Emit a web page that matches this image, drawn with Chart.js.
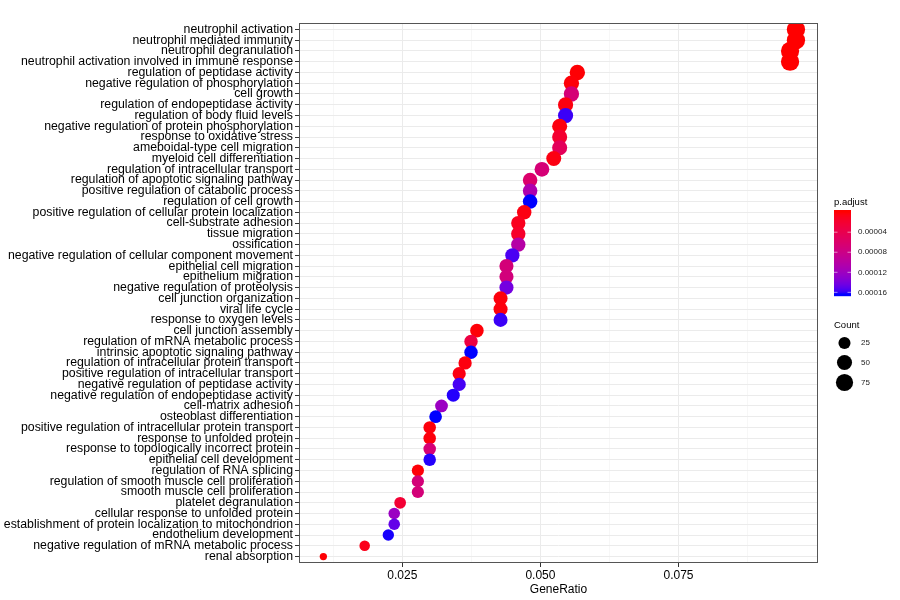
<!DOCTYPE html>
<html>
<head>
<meta charset="utf-8">
<script src="https://cdn.jsdelivr.net/npm/chart.js@4.4.1/dist/chart.umd.min.js"></script>
<style>
  html, body { margin: 0; padding: 0; background: #fff; }
  #wrap { width: 900px; height: 600px; }
</style>
</head>
<body>
<div id="wrap"><canvas id="dotChart" width="900" height="600"></canvas></div>
<script>
// GO terms, top to bottom
const terms = [
    'neutrophil activation',
    'neutrophil mediated immunity',
    'neutrophil degranulation',
    'neutrophil activation involved in immune response',
    'regulation of peptidase activity',
    'negative regulation of phosphorylation',
    'cell growth',
    'regulation of endopeptidase activity',
    'regulation of body fluid levels',
    'negative regulation of protein phosphorylation',
    'response to oxidative stress',
    'ameboidal-type cell migration',
    'myeloid cell differentiation',
    'regulation of intracellular transport',
    'regulation of apoptotic signaling pathway',
    'positive regulation of catabolic process',
    'regulation of cell growth',
    'positive regulation of cellular protein localization',
    'cell-substrate adhesion',
    'tissue migration',
    'ossification',
    'negative regulation of cellular component movement',
    'epithelial cell migration',
    'epithelium migration',
    'negative regulation of proteolysis',
    'cell junction organization',
    'viral life cycle',
    'response to oxygen levels',
    'cell junction assembly',
    'regulation of mRNA metabolic process',
    'intrinsic apoptotic signaling pathway',
    'regulation of intracellular protein transport',
    'positive regulation of intracellular transport',
    'negative regulation of peptidase activity',
    'negative regulation of endopeptidase activity',
    'cell-matrix adhesion',
    'osteoblast differentiation',
    'positive regulation of intracellular protein transport',
    'response to unfolded protein',
    'response to topologically incorrect protein',
    'epithelial cell development',
    'regulation of RNA splicing',
    'regulation of smooth muscle cell proliferation',
    'smooth muscle cell proliferation',
    'platelet degranulation',
    'cellular response to unfolded protein',
    'establishment of protein localization to mitochondrion',
    'endothelium development',
    'negative regulation of mRNA metabolic process',
    'renal absorption'
];

const geneRatio = [
    0.09626, 0.09626, 0.09519, 0.09519, 0.05668, 0.05561, 0.05561, 0.05455, 0.05455, 0.05348,
    0.05348, 0.05348, 0.05241, 0.05027, 0.04813, 0.04813, 0.04813, 0.04706, 0.04599, 0.04599,
    0.04599, 0.04492, 0.04385, 0.04385, 0.04385, 0.04278, 0.04278, 0.04278, 0.03850, 0.03743,
    0.03743, 0.03636, 0.03529, 0.03529, 0.03422, 0.03209, 0.03102, 0.02995, 0.02995, 0.02995,
    0.02995, 0.02781, 0.02781, 0.02781, 0.02460, 0.02353, 0.02353, 0.02246, 0.01818, 0.01070
];

const counts = [
    90, 90, 89, 89, 53, 52, 52, 51, 51, 50,
    50, 50, 49, 47, 45, 45, 45, 44, 43, 43,
    43, 42, 41, 41, 41, 40, 40, 40, 36, 35,
    35, 34, 33, 33, 32, 30, 29, 28, 28, 28,
    28, 26, 26, 26, 23, 22, 22, 21, 17, 10
];

const pAdjust = [
    1e-12, 1e-11, 1e-11, 1e-11, 1.0e-6, 2.0e-6, 6.8e-5, 4.0e-6, 0.000158, 4.0e-6,
    2.0e-5, 4.8e-5, 5.0e-6, 6.8e-5, 6.0e-5, 0.000108, 0.000163, 5.0e-6, 1.0e-5, 1.6e-5,
    0.000102, 0.000155, 7.0e-5, 7.2e-5, 0.000142, 3.0e-6, 3.0e-6, 0.000158, 2.0e-6, 3.2e-5,
    0.000163, 4.0e-6, 5.0e-6, 0.000156, 0.000161, 0.000122, 0.000163, 3.0e-6, 3.0e-6, 6.8e-5,
    0.000161, 2.0e-6, 7.0e-5, 7.0e-5, 2.2e-5, 0.000122, 0.000148, 0.000162, 8.0e-6, 1.0e-6
];

const xMajorTicks = [0.025, 0.05, 0.075];
const xMinorTicks = [0.0125, 0.0375, 0.0625, 0.0875];
const colorTicks = [0.00004, 0.00008, 0.00012, 0.00016];
const colorTickLabels = ['0.00004', '0.00008', '0.00012', '0.00016'];
const sizeTicks = [25, 50, 75];

// colour scale: red (low) -> blue (high), interpolated in Lab like ggplot
function toLin(c) { c /= 255; return c <= 0.04045 ? c / 12.92 : Math.pow((c + 0.055) / 1.055, 2.4); }
function fromLin(c) {
    c = c <= 0.0031308 ? 12.92 * c : 1.055 * Math.pow(c, 1 / 2.4) - 0.055;
    return Math.round(Math.max(0, Math.min(1, c)) * 255);
}
function rgbToLab(rgb) {
    const r = toLin(rgb[0]), g = toLin(rgb[1]), b = toLin(rgb[2]);
    let x = (r * 0.4124 + g * 0.3576 + b * 0.1805) / 0.95047;
    let y = (r * 0.2126 + g * 0.7152 + b * 0.0722);
    let z = (r * 0.0193 + g * 0.1192 + b * 0.9505) / 1.08883;
    const f = t => t > 0.008856 ? Math.cbrt(t) : 7.787 * t + 16 / 116;
    x = f(x); y = f(y); z = f(z);
    return [116 * y - 16, 500 * (x - y), 200 * (y - z)];
}
function labToRgb(lab) {
    let y = (lab[0] + 16) / 116, x = lab[1] / 500 + y, z = y - lab[2] / 200;
    const fi = t => t * t * t > 0.008856 ? t * t * t : (t - 16 / 116) / 7.787;
    x = fi(x) * 0.95047; y = fi(y); z = fi(z) * 1.08883;
    const r = x * 3.2406 + y * -1.5372 + z * -0.4986;
    const g = x * -0.9689 + y * 1.8758 + z * 0.0415;
    const b = x * 0.0557 + y * -0.2040 + z * 1.0570;
    return [fromLin(r), fromLin(g), fromLin(b)];
}
const labLow = rgbToLab([255, 0, 0]);
const labHigh = rgbToLab([0, 0, 255]);
const pMin = Math.min(...pAdjust);
const pMax = Math.max(...pAdjust);
function rampColor(t) {
    t = Math.max(0, Math.min(1, t));
    const c = labToRgb([0, 1, 2].map(i => labLow[i] + (labHigh[i] - labLow[i]) * t));
    return `rgb(${c[0]},${c[1]},${c[2]})`;
}
function pColor(p) { return rampColor((p - pMin) / (pMax - pMin)); }

// point diameter grows with sqrt of scaled count
const cMin = Math.min(...counts), cMax = Math.max(...counts);
function pointDiameter(c) {
    const t = Math.max(0, (c - cMin) / (cMax - cMin));
    return 7.3 + 11 * Math.sqrt(t);
}

const FONT = '"Liberation Sans", Arial, Helvetica, sans-serif';

const legendPlugin = {
    id: 'ggLegend',
    afterDraw(chart) {
        const ctx = chart.ctx;
        const area = chart.chartArea;
        ctx.save();

        // panel border
        ctx.strokeStyle = '#555555';
        ctx.lineWidth = 1;
        ctx.strokeRect(area.left + 0.5, area.top + 0.5, area.right - area.left - 1, area.bottom - area.top - 1);

        // p.adjust colour bar
        const barX = 834, barY = 210, barW = 17, barH = 86;
        const inset = barH * 0.025, span = barH * 0.95;
        ctx.fillStyle = '#000';
        ctx.font = '9.5px ' + FONT;
        ctx.textBaseline = 'middle';
        ctx.textAlign = 'left';
        ctx.fillText('p.adjust', barX, 202);
        for (let i = 0; i < barH; i++) {
            ctx.fillStyle = rampColor((i + 0.5 - inset) / span);
            ctx.fillRect(barX, barY + i, barW, 1.2);
        }
        ctx.strokeStyle = 'rgba(255,255,255,0.9)';
        ctx.lineWidth = 0.6;
        ctx.font = '8px ' + FONT;
        colorTicks.forEach((v, i) => {
            const y = barY + inset + span * (v - pMin) / (pMax - pMin);
            ctx.beginPath();
            ctx.moveTo(barX, y); ctx.lineTo(barX + 3.5, y);
            ctx.moveTo(barX + barW - 3.5, y); ctx.lineTo(barX + barW, y);
            ctx.stroke();
            ctx.fillStyle = '#222';
            ctx.fillText(colorTickLabels[i], 858, y);
        });

        // Count size legend
        ctx.fillStyle = '#000';
        ctx.font = '9.5px ' + FONT;
        ctx.fillText('Count', barX, 325);
        const keyY = [343, 362.5, 382.5];
        ctx.font = '8px ' + FONT;
        sizeTicks.forEach((c, i) => {
            ctx.fillStyle = '#000';
            ctx.beginPath();
            ctx.arc(844.5, keyY[i], pointDiameter(c) / 2, 0, Math.PI * 2);
            ctx.fill();
            ctx.fillStyle = '#222';
            ctx.fillText(String(c), 861, keyY[i]);
        });
        ctx.restore();
    }
};

const points = terms.map((t, i) => ({ x: geneRatio[i], y: i }));

new Chart(document.getElementById('dotChart'), {
    type: 'scatter',
    data: {
        datasets: [{
            data: points,
            pointRadius: c => pointDiameter(counts[c.dataIndex]) / 2,
            pointHoverRadius: c => pointDiameter(counts[c.dataIndex]) / 2,
            backgroundColor: c => pColor(pAdjust[c.dataIndex]),
            borderWidth: 0,
            clip: 0
        }]
    },
    options: {
        responsive: false,
        animation: false,
        layout: { padding: { left: 0, right: 82, top: 23, bottom: 0 } },
        plugins: {
            legend: { display: false },
            tooltip: { enabled: false }
        },
        scales: {
            x: {
                type: 'linear',
                min: 0.00629,
                max: 0.10025,
                afterBuildTicks: scale => {
                    scale.ticks = xMinorTicks.concat(xMajorTicks).sort((a, b) => a - b).map(v => ({ value: v }));
                },
                afterFit: scale => { scale.height = 37; },
                ticks: {
                    autoSkip: false,
                    maxRotation: 0,
                    padding: 1,
                    color: '#000',
                    font: { family: FONT, size: 12 },
                    callback: v => xMajorTicks.includes(v) ? v.toFixed(3) : ''
                },
                grid: {
                    color: c => xMajorTicks.includes(c.tick && c.tick.value) ? '#ebebeb' : '#f2f2f2',
                    lineWidth: c => xMajorTicks.includes(c.tick && c.tick.value) ? 1 : 0.6,
                    tickColor: c => xMajorTicks.includes(c.tick && c.tick.value) ? '#333' : 'rgba(0,0,0,0)',
                    tickLength: 4,
                    drawTicks: true
                },
                border: { display: false },
                title: {
                    display: true,
                    text: 'GeneRatio',
                    color: '#000',
                    font: { family: FONT, size: 12 },
                    padding: { top: 0, bottom: 3 }
                }
            },
            y: {
                type: 'linear',
                reverse: true,
                min: -0.6,
                max: terms.length - 0.4,
                afterBuildTicks: scale => {
                    scale.ticks = terms.map((t, i) => ({ value: i }));
                },
                afterFit: scale => { scale.width = 299; },
                ticks: {
                    autoSkip: false,
                    padding: 2,
                    color: '#000',
                    font: { family: FONT, size: 12.3 },
                    callback: v => terms[v]
                },
                grid: {
                    color: '#ebebeb',
                    lineWidth: 1,
                    tickColor: '#333',
                    tickLength: 4,
                    drawTicks: true
                },
                border: { display: false }
            }
        }
    },
    plugins: [legendPlugin]
});
</script>
</body>
</html>
